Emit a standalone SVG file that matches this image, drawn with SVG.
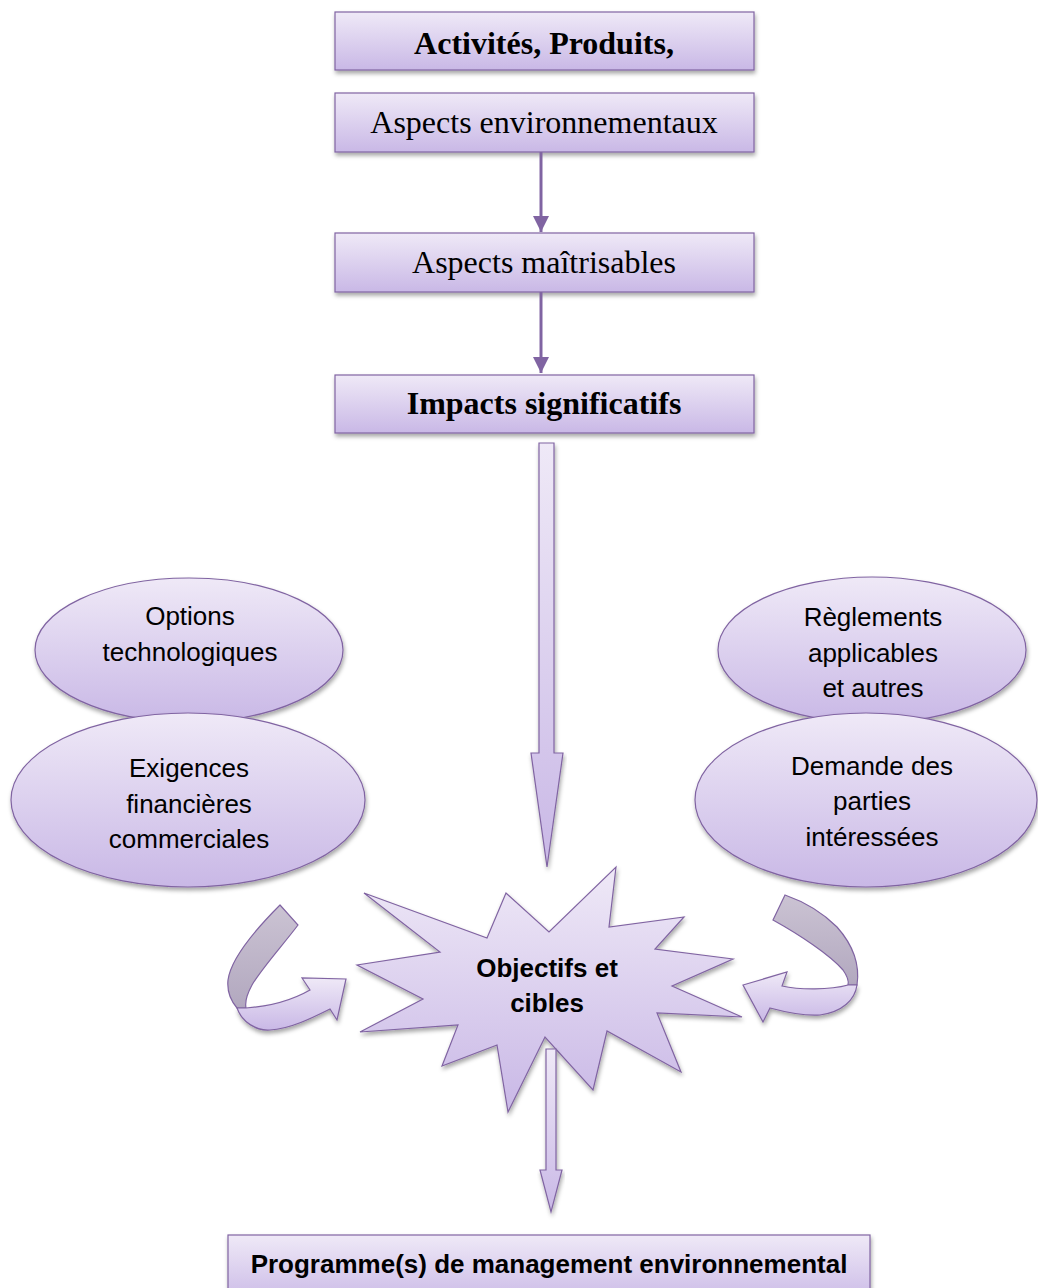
<svg xmlns="http://www.w3.org/2000/svg" width="1038" height="1288" viewBox="0 0 1038 1288">
  <defs>
    <linearGradient id="lav" x1="0" y1="0" x2="0" y2="1">
      <stop offset="0" stop-color="#efe9f7"/>
      <stop offset="1" stop-color="#c9b8e6"/>
    </linearGradient>
    <linearGradient id="back" x1="0" y1="0" x2="0" y2="1">
      <stop offset="0" stop-color="#cbc3d3"/>
      <stop offset="1" stop-color="#b2a8bf"/>
    </linearGradient>
    <filter id="shadow" x="-10%" y="-10%" width="120%" height="130%">
      <feDropShadow dx="1" dy="3" stdDeviation="2" flood-color="#000" flood-opacity="0.35"/>
    </filter>
    <marker id="head" viewBox="0 0 10 10" refX="10" refY="5" markerWidth="5.5" markerHeight="5.5" orient="auto" markerUnits="strokeWidth">
      <path d="M0,0 L10,5 L0,10 Z" fill="#8064a2"/>
    </marker>
    <style>
      .box { fill: url(#lav); stroke: #8064a2; stroke-width: 1.2; filter: url(#shadow); }
      .shape { fill: url(#lav); stroke: #8064a2; stroke-width: 1.2; filter: url(#shadow); }
      .backside { fill: url(#back); stroke: #8064a2; stroke-width: 1.2; }
      .serif { font-family: "Liberation Serif", "Times New Roman", serif; font-size: 32px; fill: #000; text-anchor: middle; }
      .bold { font-weight: bold; }
      .sans { font-family: "Liberation Sans", Arial, sans-serif; font-size: 26px; fill: #000; text-anchor: middle; }
      .link { stroke: #8064a2; stroke-width: 3; fill: none; marker-end: url(#head); }
    </style>
  </defs>

  <!-- top chain of rectangles -->
  <g id="activites">
    <rect class="box" x="335" y="12" width="419" height="58"/>
    <text class="serif bold" x="544" y="54">Activités, Produits,</text>
  </g>
  <g id="aspects-env">
    <rect class="box" x="335" y="93" width="419" height="59"/>
    <text class="serif" x="544" y="133">Aspects environnementaux</text>
  </g>
  <g id="aspects-maitrisables">
    <rect class="box" x="335" y="233" width="419" height="59"/>
    <text class="serif" x="544" y="273">Aspects maîtrisables</text>
  </g>
  <g id="impacts">
    <rect class="box" x="335" y="375" width="419" height="58"/>
    <text class="serif bold" x="544" y="414">Impacts significatifs</text>
  </g>

  <!-- side ellipses -->
  <g id="options">
    <ellipse class="shape" cx="189" cy="650" rx="154" ry="72"/>
    <text class="sans" x="190" y="625">Options</text>
    <text class="sans" x="190" y="661">technologiques</text>
  </g>
  <g id="exigences">
    <ellipse class="shape" cx="188" cy="800" rx="177" ry="87"/>
    <text class="sans" x="189" y="777">Exigences</text>
    <text class="sans" x="189" y="813">financières</text>
    <text class="sans" x="189" y="848">commerciales</text>
  </g>
  <g id="reglements">
    <ellipse class="shape" cx="872" cy="650" rx="154" ry="73"/>
    <text class="sans" x="873" y="626">Règlements</text>
    <text class="sans" x="873" y="662">applicables</text>
    <text class="sans" x="873" y="697">et autres</text>
  </g>
  <g id="demande">
    <ellipse class="shape" cx="866" cy="800" rx="171" ry="87"/>
    <text class="sans" x="872" y="775">Demande des</text>
    <text class="sans" x="872" y="810">parties</text>
    <text class="sans" x="872" y="846">intéressées</text>
  </g>

  <!-- central burst -->
  <g id="objectifs">
    <polygon class="shape" points="616,867 609,927 684,917 655,949 733,959 672,986 742,1017 657,1013 681,1072 607,1031 593,1090 545,1037 508,1112 497,1045 442,1066 458,1025 360,1032 423,999 357,965 440,952 364,893 487,938 506,893 549,932"/>
    <text class="sans bold" x="547" y="977" font-size="25">Objectifs et</text>
    <text class="sans bold" x="547" y="1012" font-size="25">cibles</text>
  </g>

  <!-- bottom rectangle -->
  <g id="programme">
    <rect class="box" x="228" y="1235" width="642" height="70"/>
    <text class="sans bold" x="549" y="1273" font-size="23.2">Programme(s) de management environnemental</text>
  </g>

  <!-- connectors -->
  <g id="connectors">
    <line class="link" x1="541" y1="152" x2="541" y2="232"/>
    <line class="link" x1="541" y1="292" x2="541" y2="373"/>
    <!-- block arrow from impacts to the burst -->
    <path class="shape" d="M539,443 L554,443 L554,753 L563,753 L547,867 L531,753 L539,753 Z"/>
    <!-- block arrow from the burst to the programme -->
    <path class="shape" d="M546,1049 L556,1049 L556,1170 L562,1170 L551,1212 L540,1170 L546,1170 Z"/>
    <!-- left curved arrow -->
    <g id="curve-left">
      <path class="backside" d="M280,905 L298,925 C283,945 262,968 252,985 C246,996 245,1003 246,1008 L237,1008 C230,1000 227,990 228,980 C231,958 255,930 280,905 Z"/>
      <path class="shape" d="M237,1008 C242,1022 256,1031 270,1030 C290,1029 312,1018 330,1009 L337,1020 L346,979 L302,978 L310,990 C296,998 275,1006 246,1008 Z"/>
    </g>
    <!-- right curved arrow -->
    <g id="curve-right">
      <path class="backside" d="M785,895 L773,920 C800,935 830,955 843,970 C848,977 849,981 848,985 L857,985 C860,965 853,945 837,927 C822,912 805,902 785,895 Z"/>
      <path class="shape" d="M857,985 C855,1000 842,1012 820,1015 C805,1016 785,1012 770,1008 L763,1022 L743,985 L787,972 L782,986 C800,990 830,990 848,985 Z"/>
    </g>
  </g>
</svg>
